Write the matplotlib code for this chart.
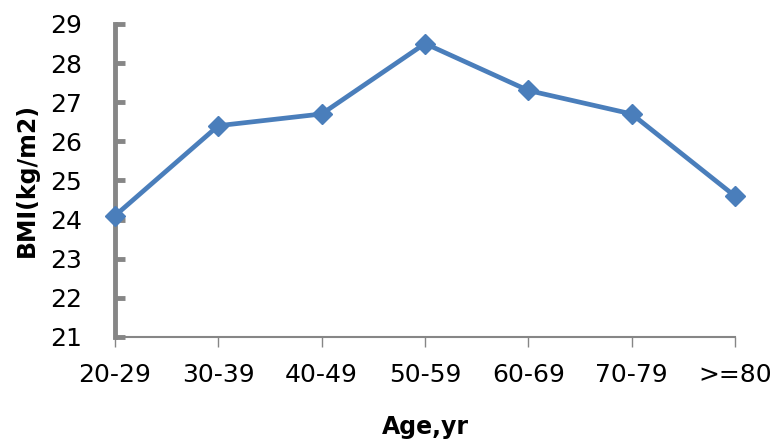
import matplotlib.pyplot as plt

ages = ['20-29', '30-39', '40-49', '50-59', '60-69', '70-79', '>=80']
bmi = [24.1, 26.4, 26.7, 28.5, 27.3, 26.7, 24.6]
yticks = [21, 22, 23, 24, 25, 26, 27, 28, 29]

fig = plt.figure(figsize=(7.77, 4.44), dpi=100)
ax = fig.add_axes([0.148, 0.241, 0.798, 0.705])

x = list(range(len(ages)))
ax.plot(x, bmi, color='#4a7ebb', linewidth=3.4, marker='D', markersize=10,
        clip_on=False, zorder=3)

ax.set_xlim(0, len(ages) - 1)
ax.set_ylim(21, 29)
ax.set_xticks(x)
ax.set_xticklabels(ages)
ax.set_yticks(yticks)

for side in ['top', 'right']:
    ax.spines[side].set_visible(False)
ax.spines['left'].set_color('#868686')
ax.spines['left'].set_linewidth(3.5)
ax.spines['bottom'].set_color('#868686')
ax.spines['bottom'].set_linewidth(1.5)

ax.tick_params(axis='y', direction='in', length=7, width=3.5, color='#868686',
               labelsize=18, pad=24)
ax.tick_params(axis='x', direction='out', length=7, width=1, color='#868686',
               labelsize=18, pad=12)

ax.set_xlabel('Age,yr', fontsize=17, fontweight='bold', labelpad=20)
ax.set_ylabel('BMI(kg/m2)', fontsize=17, fontweight='bold', labelpad=8)

fig.savefig('out.png', dpi=100)
